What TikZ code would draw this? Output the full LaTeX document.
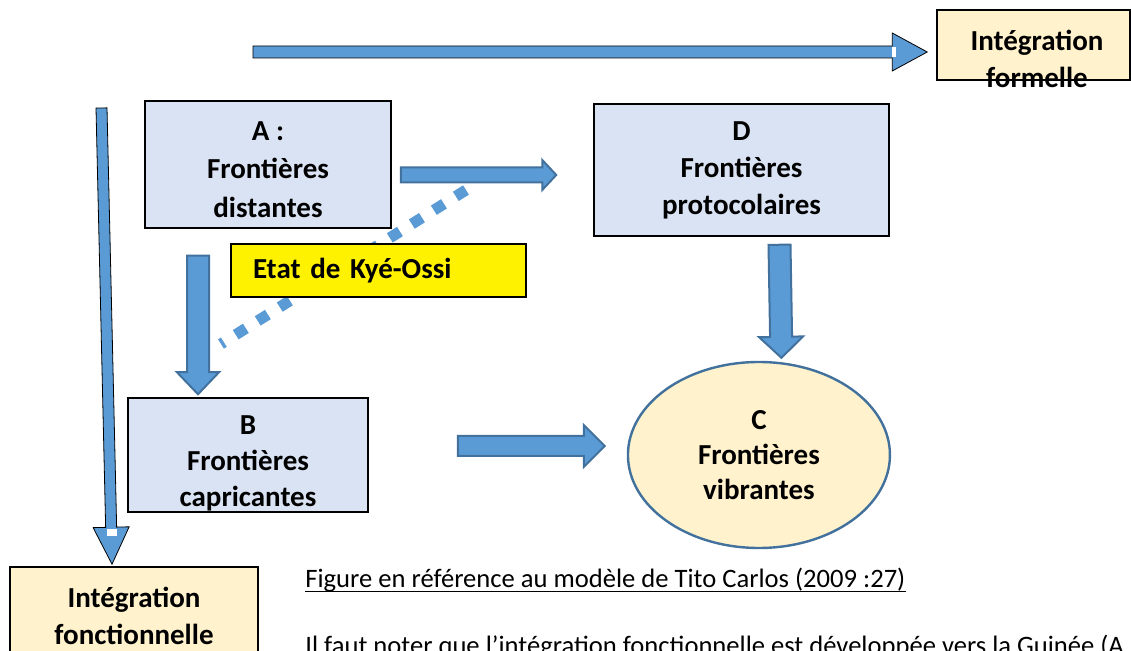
\documentclass[tikz,border=0pt]{standalone}
\usepackage{fontspec}
\setmainfont{Carlito}
\usepackage{tikz}
\usetikzlibrary{positioning,calc,shapes.geometric}
\definecolor{zoneblue}{HTML}{DAE3F3}
\definecolor{zonecream}{HTML}{FFF2CC}
\definecolor{arrfill}{HTML}{5B9BD5}
\definecolor{arrline}{HTML}{41719C}
\newcommand{\grasfont}{\fontsize{14.5}{18.5}\selectfont\bfseries}
\newcommand{\hautligne}[1]{\rule{0pt}{#1}}
\tikzset{
  zone/.style={draw, line width=0.75pt, fill=zoneblue, align=center, inner sep=0pt, font=\grasfont},
  zonec/.style={ellipse, draw=arrline, line width=1.2pt, fill=zonecream, align=center, inner sep=0pt, font=\fontsize{14.5}{17.5}\selectfont\bfseries},
  etat/.style={draw, line width=0.75pt, fill=yellow, align=left, inner xsep=11pt, inner ysep=0pt, font=\grasfont},
  integ/.style={draw, line width=0.75pt, fill=zonecream, inner sep=0pt},
  integtext/.style={align=center, inner sep=0pt, font=\grasfont},
  legende/.style={inner sep=0pt, font=\fontsize{13.3}{16}\selectfont},
  blockarrow/.style n args={3}{to path={
    let \p1=(\tikztostart), \p2=(\tikztotarget),
        \n1={atan2(\y2-\y1,\x2-\x1)},
        \n2={veclen(\x2-\x1,\y2-\y1)-#3}
    in ($(\p1)+({\n1+90}:#1)$)
    -- ($(\p1)+(\n1:\n2)+({\n1+90}:#1)$)
    -- ($(\p1)+(\n1:\n2)+({\n1+90}:#2)$)
    -- (\p2)
    -- ($(\p1)+(\n1:\n2)+({\n1-90}:#2)$)
    -- ($(\p1)+(\n1:\n2)+({\n1-90}:#1)$)
    -- ($(\p1)+({\n1-90}:#1)$) -- cycle}},
  flux/.style={draw=arrline, fill=arrfill, line width=1pt},
  axe/.style={fill=arrfill},
  pointille/.style={draw=arrfill, line width=5.5pt, dash pattern=on 6pt off 7pt}
}

\begin{document}
\begin{tikzpicture}[x=0.5pt, y=-0.5pt]
  \path[use as bounding box, fill=white] (0,0) rectangle (1131,651);

  % les quatre zones
  \node[zone, minimum width=123pt, minimum height=63.5pt, font=\fontsize{14.5}{19.25}\selectfont\bfseries] (A) at (268,164.5) {\hautligne{14.3pt}A :\\Frontières\\distantes};
  \node[zone, minimum width=147.5pt, minimum height=66pt] (D) at (741.5,170) {D\\Frontières\\protocolaires};
  \node[zone, minimum width=120pt, minimum height=57pt, font=\fontsize{14.5}{18}\selectfont\bfseries] (B) at (248,455) {\hautligne{18.2pt}B\\Frontières\\capricantes};
  \node[zonec, minimum width=131pt, minimum height=93pt, right=129pt of B] (C) {C\\Frontières\\vibrantes};

  % Kye-Ossi
  \coordinate (ky1) at (466,190);
  \coordinate (ky2) at (221,344);
  \draw[pointille] (ky1) -- (ky2);
  \node[etat, text width=125.5pt, minimum height=26.5pt] (kye) at (378.5,270.5) {Etat de Kyé-Ossi};

  % integration
  \node[integ, minimum width=96.5pt, minimum height=35pt] (formelle) at (1033.5,45) {};
  \node[integtext] (formelleT) at (1037,59) {Intégration\\formelle};
  \node[integ, minimum width=124pt, minimum height=60pt] (fonct) at (134,627) {};
  \node[integtext] (fonctT) at (134,615.5) {Intégration\\fonctionnelle};

  \coordinate (f1) at (253,52);
  \coordinate (f2) at ($(formelle.west)+(-9,7)$);
  \draw[axe, blockarrow={3pt}{9.5pt}{17.5pt}] (f1) to (f2);
  \fill[white] ($(f2)+(-35,-5)$) rectangle ($(f2)+(-31,5)$);
  \coordinate (g1) at (101.5,108);
  \coordinate (g2) at ($(fonct.north)+(-22,-2)$);
  \draw[axe, blockarrow={2.75pt}{9pt}{18.5pt}] (g1) to (g2);
  \fill[white] ($(g2)+(-5,-35)$) rectangle ($(g2)+(5,-28)$);

  % fleches entre zones
  \coordinate (ad1) at ($(A.east)+(9,10.5)$);
  \coordinate (ad2) at ($(D.west)+(-37,5)$);
  \draw[flux, blockarrow={3.75pt}{7.5pt}{7pt}] (ad1) to (ad2);
  \coordinate (ab1) at ($(A.south)+(-70,27)$);
  \coordinate (ab2) at ($(B.north)+(-50,-3)$);
  \draw[flux, blockarrow={5.5pt}{10.5pt}{11pt}] (ab1) to (ab2);
  \coordinate (bc1) at ($(B.east)+(89,-9)$);
  \coordinate (bc2) at ($(C.west)+(-22,-9)$);
  \draw[flux, blockarrow={5pt}{10.5pt}{10.5pt}] (bc1) to (bc2);
  \coordinate (dc1) at ($(D.south)+(38,8)$);
  \coordinate (dc2) at ($(C.north)+(22.5,-3)$);
  \draw[flux, blockarrow={5.5pt}{11pt}{10.5pt}] (dc1) to (dc2);

  % texte sous la figure
  \node[legende, anchor=base west] (titre) at (305,588) {Figure en référence au modèle de Tito Carlos (2009 :27)};
  \draw[line width=0.6pt] ([yshift=-1.8pt]titre.base west) -- ([yshift=-1.8pt]titre.base east);
  \node[legende, anchor=base west] (note) at (305,655) {Il faut noter que l’intégration fonctionnelle est développée vers la Guinée (A};
\end{tikzpicture}
\end{document}
